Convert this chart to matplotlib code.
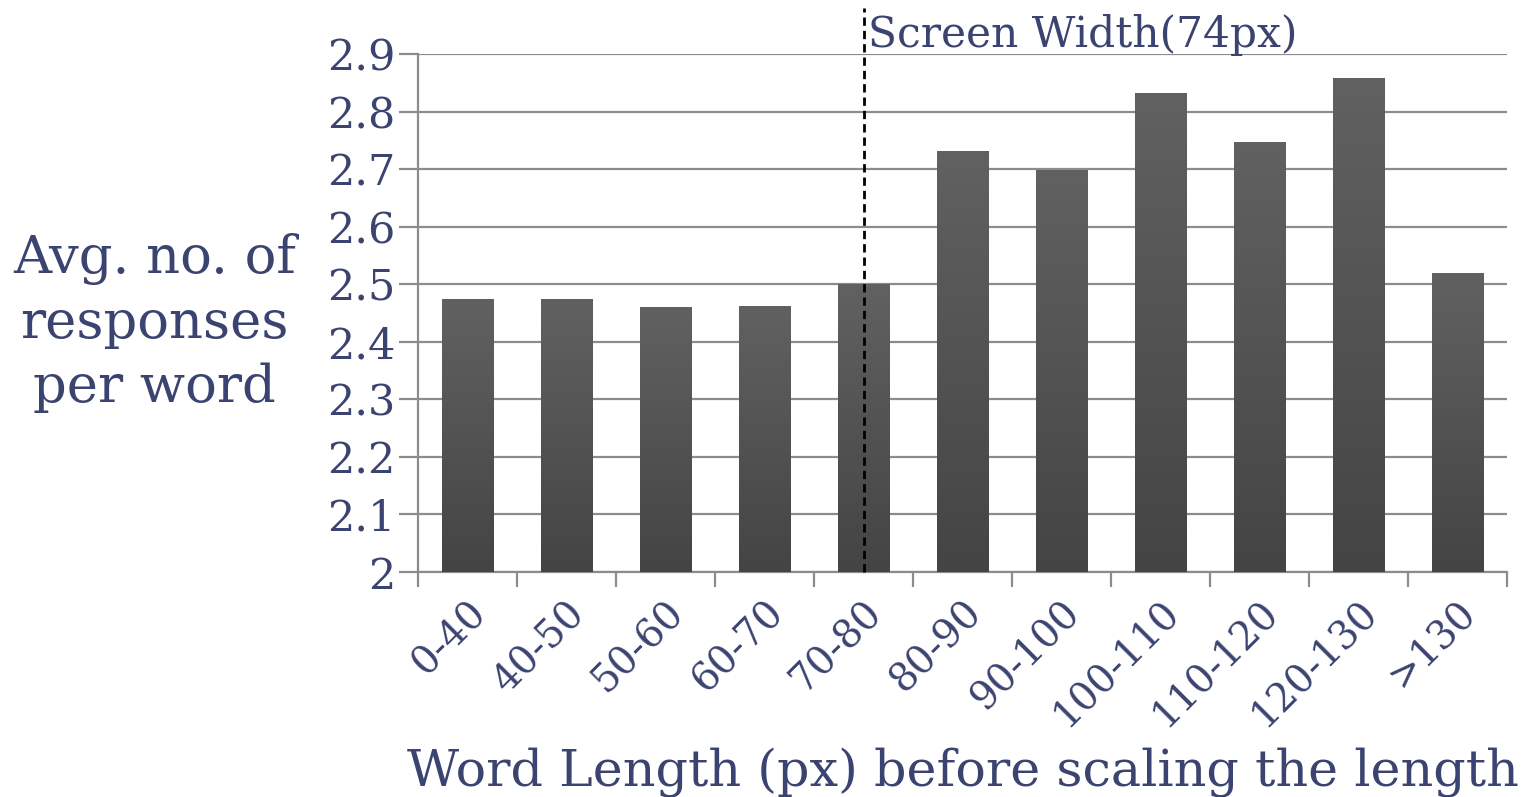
import numpy as np
import matplotlib.pyplot as plt
from matplotlib.colors import LinearSegmentedColormap

# Word length bins and average number of responses per word
categories = ['0-40', '40-50', '50-60', '60-70', '70-80', '80-90',
              '90-100', '100-110', '110-120', '120-130', '>130']
avg_responses = [2.473, 2.473, 2.459, 2.462, 2.500, 2.730,
                 2.697, 2.832, 2.747, 2.858, 2.518]
yticks = [2, 2.1, 2.2, 2.3, 2.4, 2.5, 2.6, 2.7, 2.8, 2.9]
ytick_labels = ['2', '2.1', '2.2', '2.3', '2.4', '2.5', '2.6', '2.7', '2.8', '2.9']
screen_pos = 4  # category index of the screen width marker

text_color = '#3b4370'
grid_color = '#8c8c8c'
font = 'DejaVu Serif'

fig = plt.figure(figsize=(15.29, 7.97), dpi=100)
ax = fig.add_axes([0.2734, 0.2823, 0.9856 - 0.2734, 0.9322 - 0.2823])

x = np.arange(len(categories))
bars = ax.bar(x, np.array(avg_responses) - 2, bottom=2, width=0.52,
              color='none', zorder=3)

# vertical gradient fill for each bar
cmap = LinearSegmentedColormap.from_list('bar', ['#444444', '#616161'])
grad = np.linspace(0, 1, 256).reshape(-1, 1)
for b in bars:
    x0, y0 = b.get_x(), b.get_y()
    w, h = b.get_width(), b.get_height()
    ax.imshow(grad, extent=[x0, x0 + w, y0, y0 + h], origin='lower',
              cmap=cmap, aspect='auto', zorder=3)

ax.set_xlim(-0.5, len(categories) - 0.5)
ax.set_ylim(2, 2.9)
ax.set_yticks(yticks)
ax.set_yticklabels(ytick_labels)
ax.yaxis.grid(True, color=grid_color, linewidth=1.6, zorder=0)
ax.set_axisbelow(True)

ax.set_xticks(x)
ax.set_xticklabels(categories, rotation=45, ha='right', va='top',
                   rotation_mode='anchor')
ax.set_xticks(np.arange(len(categories) + 1) - 0.5, minor=True)
ax.tick_params(axis='x', which='major', length=0, pad=16)
ax.tick_params(axis='x', which='minor', length=11, width=1.6, color=grid_color)
ax.tick_params(axis='y', length=14, width=1.6, color=grid_color, pad=2)

for lab in ax.get_xticklabels():
    lab.set_fontfamily(font)
    lab.set_fontsize(28)
    lab.set_color(text_color)
for lab in ax.get_yticklabels():
    lab.set_fontfamily(font)
    lab.set_fontsize(31)
    lab.set_color(text_color)

for s in ['top', 'right']:
    ax.spines[s].set_visible(False)
for s in ['left', 'bottom']:
    ax.spines[s].set_color(grid_color)
    ax.spines[s].set_linewidth(1.6)

# screen width marker
ax.axvline(screen_pos, color='black', linestyle=(0, (3, 1.8)), linewidth=2,
           zorder=4, ymax=1.089, clip_on=False)
ax.text(screen_pos + 0.05, 2.912, 'Screen Width(74px)', fontfamily=font,
        fontsize=30.5, color=text_color, ha='left', va='baseline')

fig.text(0.101, 0.595, 'Avg. no. of\nresponses\nper word', fontfamily=font,
         fontsize=38, color=text_color, ha='center', va='center',
         linespacing=1.32)
fig.text(0.6295, 0.015, 'Word Length (px) before scaling the length',
         fontfamily=font, fontsize=36.5, color=text_color, ha='center',
         va='baseline')

fig.savefig('out.png', dpi=100)
